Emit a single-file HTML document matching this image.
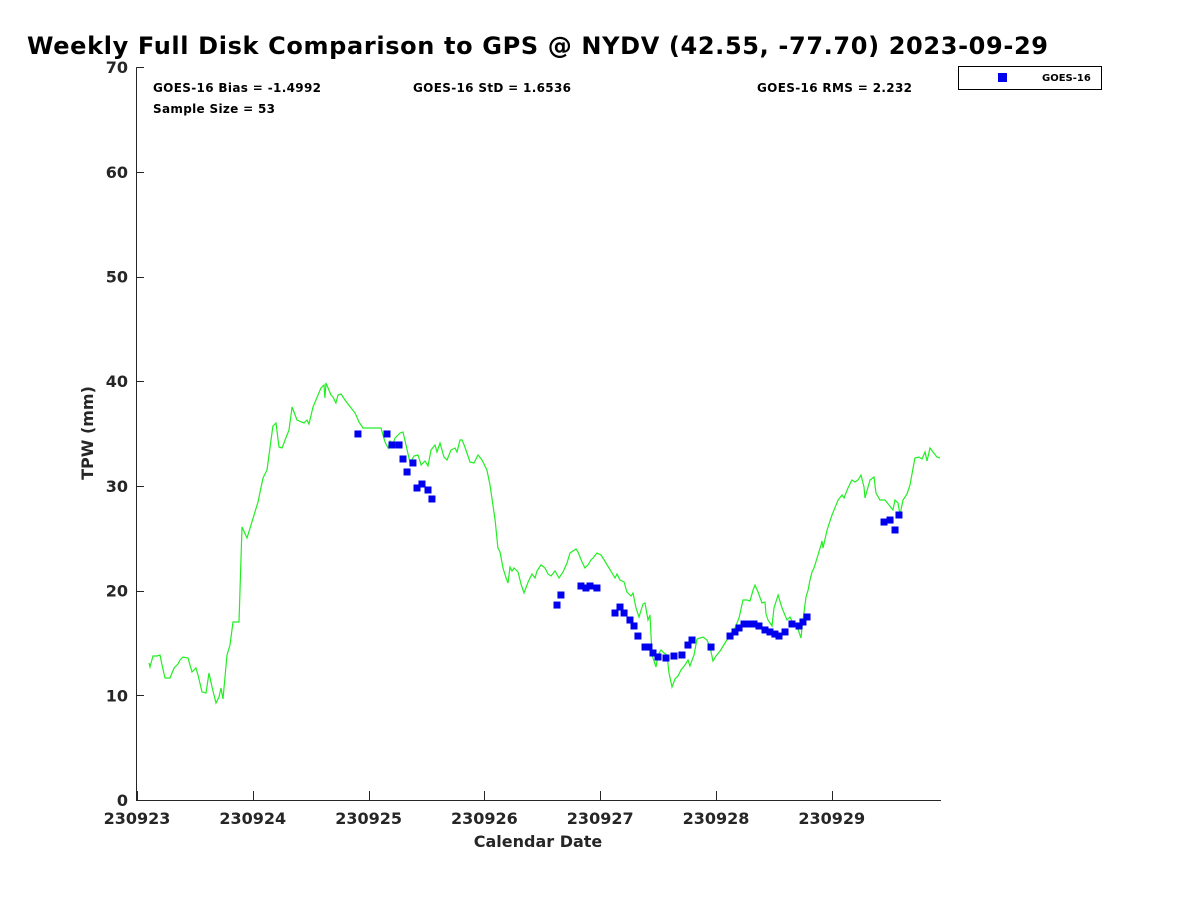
<!DOCTYPE html>
<html><head><meta charset="utf-8"><style>body{margin:0;background:#fff}svg{display:block}text{font-family:"DejaVu Sans","Liberation Sans",sans-serif;font-weight:bold}</style></head>
<body>
<svg id="chart" width="1200" height="900" xmlns="http://www.w3.org/2000/svg">
<text x="27" y="54" font-size="24" textLength="1021" fill="#000">Weekly Full Disk Comparison to GPS @ NYDV (42.55, -77.70) 2023-09-29</text>
<g id="axes"></g>
<g id="series"></g>
<text x="153" y="92" font-size="12" textLength="168">GOES-16 Bias = -1.4992</text>
<text x="153" y="113" font-size="12" textLength="122">Sample Size = 53</text>
<text x="413" y="92" font-size="12" textLength="158">GOES-16 StD = 1.6536</text>
<text x="757" y="92" font-size="12" textLength="155">GOES-16 RMS = 2.232</text>
<g>
<rect x="958.5" y="66.5" width="143" height="23" fill="#fff" stroke="#000" stroke-width="1"/>
<rect x="998" y="73" width="9" height="9" fill="#0000ee"/>
<text x="1042" y="81" font-size="10">GOES-16</text>
</g>
<text x="538" y="847" font-size="16" text-anchor="middle" fill="#262626">Calendar Date</text>
<text transform="translate(93,433) rotate(-90)" font-size="16" text-anchor="middle" fill="#262626">TPW (mm)</text>
</svg>
<script>
const xTickLabels = ["230923","230924","230925","230926","230927","230928","230929"];
const yTicks = [0,10,20,30,40,50,60,70];
const gpsDay = [0.104,0.112,0.138,0.173,0.199,0.216,0.242,0.285,0.320,0.354,0.371,0.397,0.440,0.475,0.509,0.527,0.561,0.596,0.622,0.648,0.682,0.708,0.725,0.743,0.777,0.803,0.829,0.881,0.907,0.950,1.045,1.088,1.123,1.174,1.200,1.226,1.252,1.313,1.339,1.382,1.442,1.468,1.485,1.520,1.563,1.589,1.615,1.623,1.632,1.675,1.693,1.718,1.736,1.762,1.796,1.822,1.883,1.917,1.952,2.107,2.142,2.168,2.185,2.211,2.228,2.271,2.297,2.323,2.358,2.392,2.427,2.453,2.487,2.513,2.539,2.573,2.591,2.617,2.651,2.677,2.712,2.746,2.763,2.789,2.807,2.832,2.876,2.910,2.945,2.979,3.022,3.048,3.092,3.117,3.135,3.161,3.187,3.204,3.221,3.238,3.256,3.290,3.316,3.342,3.377,3.411,3.437,3.454,3.489,3.523,3.549,3.575,3.610,3.644,3.679,3.713,3.739,3.791,3.808,3.843,3.869,3.895,3.920,3.938,3.972,4.007,4.050,4.102,4.128,4.145,4.171,4.206,4.231,4.266,4.283,4.309,4.335,4.370,4.387,4.413,4.430,4.447,4.482,4.499,4.525,4.551,4.577,4.594,4.620,4.646,4.672,4.698,4.732,4.758,4.775,4.810,4.836,4.888,4.922,4.948,4.974,5.000,5.035,5.078,5.121,5.164,5.199,5.233,5.268,5.294,5.320,5.337,5.363,5.397,5.423,5.432,5.449,5.484,5.501,5.536,5.570,5.613,5.639,5.674,5.699,5.734,5.743,5.777,5.795,5.812,5.829,5.846,5.881,5.907,5.915,5.924,5.959,6.002,6.054,6.088,6.105,6.140,6.174,6.200,6.226,6.252,6.278,6.287,6.330,6.364,6.382,6.416,6.459,6.494,6.528,6.546,6.572,6.589,6.615,6.649,6.675,6.718,6.753,6.779,6.805,6.822,6.848,6.874,6.908,6.934];
const gpsTpw = [13.09,12.70,13.75,13.75,13.85,12.89,11.65,11.65,12.61,12.99,13.37,13.66,13.56,12.23,12.61,11.94,10.32,10.22,12.13,10.79,9.26,9.84,10.70,9.65,13.85,14.80,17.00,17.00,26.07,25.02,28.46,30.75,31.52,35.72,36.01,33.72,33.62,35.34,37.54,36.29,36.01,36.29,35.91,37.54,38.68,39.35,39.64,38.40,39.83,38.68,38.49,37.92,38.68,38.78,38.20,37.82,36.96,36.10,35.53,35.53,34.19,33.62,34.29,34.00,34.57,35.05,35.15,33.91,32.19,32.86,32.95,32.00,32.38,31.90,33.43,33.91,33.24,34.10,32.76,32.47,33.43,33.62,33.24,34.38,34.38,33.72,32.28,32.19,32.95,32.47,31.52,30.09,26.74,24.07,23.69,22.16,21.20,20.73,22.25,21.87,22.16,21.78,20.63,19.77,20.82,21.59,21.20,21.87,22.45,22.16,21.59,21.39,21.87,21.20,21.78,22.64,23.59,23.97,23.69,22.73,22.16,22.45,22.92,23.11,23.59,23.40,22.64,21.68,21.20,21.59,21.01,20.82,19.87,19.48,19.77,18.34,17.48,18.72,18.82,17.19,17.67,13.85,12.70,13.85,14.33,14.04,13.85,12.13,10.79,11.56,11.84,12.42,12.89,13.37,12.80,13.85,15.38,15.57,15.28,14.61,13.28,13.75,14.23,15.00,15.76,16.43,17.38,19.10,19.10,19.01,20.06,20.53,19.87,18.82,18.91,17.77,17.19,16.62,18.34,19.58,18.34,17.19,17.48,16.71,16.62,15.47,16.43,19.39,20.06,21.01,21.78,22.16,23.40,24.36,24.74,24.07,25.79,27.22,28.65,29.13,28.84,29.80,30.56,30.37,30.56,31.04,29.89,28.84,30.56,30.85,29.32,28.65,28.65,28.18,27.70,28.65,28.37,27.22,28.65,29.23,30.09,32.66,32.76,32.57,33.24,32.38,33.62,33.24,32.76,32.66];
const goesDay = [1.908,2.159,2.202,2.263,2.297,2.332,2.383,2.418,2.461,2.513,2.547,3.627,3.661,3.834,3.877,3.912,3.972,4.128,4.171,4.206,4.257,4.292,4.326,4.387,4.421,4.456,4.499,4.568,4.637,4.706,4.758,4.793,4.957,5.121,5.164,5.199,5.242,5.285,5.328,5.371,5.423,5.466,5.509,5.544,5.596,5.656,5.717,5.751,5.786,6.451,6.503,6.546,6.580];
const goesTpw = [34.96,34.96,33.91,33.91,32.57,31.33,32.19,29.80,30.18,29.61,28.75,18.62,19.58,20.44,20.25,20.44,20.25,17.86,18.43,17.86,17.19,16.62,15.66,14.61,14.61,14.04,13.66,13.56,13.75,13.85,14.80,15.28,14.61,15.66,16.05,16.43,16.81,16.81,16.81,16.62,16.24,16.05,15.85,15.66,16.05,16.81,16.62,17.00,17.48,26.55,26.74,25.79,27.22];

const NS='http://www.w3.org/2000/svg';
const X0=137, XPD=115.8, XEND=941, Y0=800, YPU=10.47;
const xs=d=>X0+d*XPD, ys=v=>Y0-v*YPU;
const axes=document.getElementById('axes'), series=document.getElementById('series');
function mk(tag,attrs,parent){const e=document.createElementNS(NS,tag);for(const k in attrs)e.setAttribute(k,attrs[k]);parent.appendChild(e);return e;}

let e=mk('line',{x1:X0-0.5,y1:ys(70),x2:X0-0.5,y2:Y0+0.5,stroke:'#262626','stroke-width':1},axes);


e=mk('line',{x1:X0-1,y1:Y0+0.5,x2:XEND,y2:Y0+0.5,stroke:'#262626','stroke-width':1},axes);



yTicks.forEach(v=>{
  const y=Math.round(ys(v))+0.5;
  const t=mk('line',{x1:X0,y1:y,x2:X0+7,y2:y,stroke:'#262626'},axes);
  
  
  const l=mk('text',{x:128,y:ys(v)+6,'font-size':16,'text-anchor':'end',fill:'#262626'},axes);
  
  
  l.textContent=v;
});
xTickLabels.forEach((s,i)=>{
  const x=Math.round(xs(i))+0.5;
  const t=mk('line',{x1:x,y1:Y0,x2:x,y2:Y0-9,stroke:'#262626'},axes);
  
  
  const l=mk('text',{x:xs(i),y:Y0+24,'font-size':16,'text-anchor':'middle',fill:'#262626'},axes);
  
  
  l.textContent=s;
});

const pts=gpsDay.map((d,i)=>xs(d).toFixed(1)+','+ys(gpsTpw[i]).toFixed(1)).join(' ');
const gl=mk('polyline',{points:pts,fill:'none',stroke:'#22ee22','stroke-width':1.2},series);



goesDay.forEach((d,i)=>{
  if(goesTpw[i]===undefined) return;
  const r=mk('rect',{x:xs(d)-3.5,y:ys(goesTpw[i])-3.5,width:7,height:7,fill:'#0000ee'},series);
  
  
});
</script>
</body></html>
